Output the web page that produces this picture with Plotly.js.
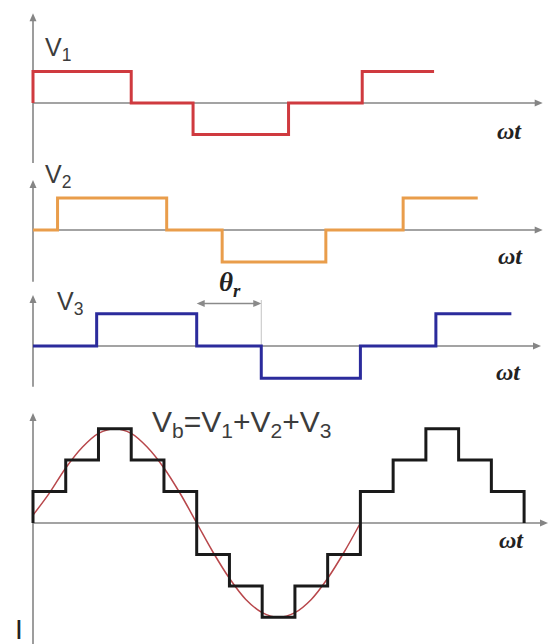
<!DOCTYPE html>
<html>
<head>
<meta charset="utf-8">
<script src="https://cdn.plot.ly/plotly-3.0.1.min.js"></script>
<style>html,body{margin:0;padding:0;background:#fff;}#chart{width:549px;height:644px;}</style>
</head>
<body>
<div id="chart"></div>
<script>
// ---- data (x in degrees of ωt, y in step levels) ----
const v1X = [0, 0, 108, 176, 281, 362, 441];
const v1Y = [0, 1, 0, -1, 0, 1, 1];
const v2X = [0, 27, 147, 208, 322, 407, 489];
const v2Y = [0, 1, 0, -1, 0, 1, 1];
const v3X = [0, 70, 180, 251, 360, 443, 526];
const v3Y = [0, 1, 0, -1, 0, 1, 1];
const vbX = [0, 0, 36, 72, 108, 144, 180, 216, 252, 288, 324, 360, 396, 432, 468, 504, 540];
const vbY = [0, 1, 2, 3, 2, 1, -1, -2, -3, -2, -1, 1, 2, 3, 2, 1, 0];
const sineX = [0, 18, 36, 54, 72, 90, 108, 126, 144, 162, 180, 198, 216, 234, 252, 270, 288, 306, 324, 342, 360];
const sineY = [0.25, 0.95, 1.75, 2.4, 2.85, 3.0, 2.85, 2.4, 1.75, 0.93, 0, -0.93, -1.76, -2.43, -2.85, -3.0, -2.85, -2.43, -1.76, -0.93, 0];
const thetaSpan = [180, 251];
const labels = {
  v1: 'V<sub>1</sub>', v2: 'V<sub>2</sub>', v3: 'V<sub>3</sub>',
  vb: 'V<sub>b</sub>=V<sub>1</sub>+V<sub>2</sub>+V<sub>3</sub>',
  wt: '<b><i>ωt</i></b>', theta: '<b><i>θ<sub>r</sub></i></b>'
};

// ---- layout helpers (pixel geometry) ----
const W = 549, H = 644;
const k = 180 / 163.7;          // degrees per pixel
const x0px = 33;                 // pixel of ωt = 0
const px2x = px => (px - x0px) * k;
const P = [
  {zero: 103, unit: 31.6, top: 10,  bot: 166, tip: 13.3, end: 163,  xtip: 542.7},
  {zero: 230, unit: 32.0, top: 168, bot: 290, tip: 180,  end: 281.7, xtip: 542.7},
  {zero: 346, unit: 32.2, top: 291, bot: 392, tip: 295,  end: 386.7, xtip: 541},
  {zero: 523, unit: 31.45, top: 405, bot: 644, tip: 413, end: 644,  xtip: 548}
];
const py2y = (i, py) => (P[i].zero - py) / P[i].unit;

const hidden = {showgrid: false, zeroline: false, showticklabels: false, showline: false, ticks: '', fixedrange: true};
const layout = {
  width: W, height: H, margin: {l: 0, r: 0, t: 0, b: 0},
  paper_bgcolor: '#fff', plot_bgcolor: 'rgba(0,0,0,0)', showlegend: false,
  xaxis: Object.assign({range: [px2x(0), px2x(W)], anchor: 'y4'}, hidden),
  annotations: [], shapes: []
};
P.forEach((p, i) => {
  const name = i === 0 ? 'yaxis' : 'yaxis' + (i + 1);
  layout[name] = Object.assign({
    domain: [1 - p.bot / H, 1 - p.top / H],
    range: [py2y(i, p.bot), py2y(i, p.top)], anchor: 'x'
  }, hidden);
});

const axisColor = '#858585';
const line = (yr, xa, xb, ya, yb, color, width) => layout.shapes.push({type: 'line', xref: 'x', yref: yr,
  x0: xa, x1: xb, y0: ya, y1: yb, line: {color: color, width: width}, layer: 'below'});
// arrowhead as a small pixel-sized triangle anchored at a data point
const head = (yr, xa, ya, dir, color) => {
  const L = 8, Wd = 3.5;
  const paths = {
    up:    `M0,0 L${-Wd},${-L} L${Wd},${-L} Z`,
    right: `M0,0 L${-L},${Wd} L${-L},${-Wd} Z`,
    left:  `M0,0 L${L},${Wd} L${L},${-Wd} Z`
  };
  layout.shapes.push({type: 'path', xref: 'x', yref: yr, xsizemode: 'pixel', ysizemode: 'pixel',
    xanchor: xa, yanchor: ya, path: paths[dir], fillcolor: color, line: {width: 0}, layer: 'below'});
};
P.forEach((p, i) => {
  const yr = i === 0 ? 'y' : 'y' + (i + 1);
  line(yr, 0, 0, py2y(i, p.end), py2y(i, p.tip) - 0.1, axisColor, 1.6);
  head(yr, 0, py2y(i, p.tip), 'up', axisColor);
  line(yr, 0, px2x(p.xtip) - 4, 0, 0, axisColor, 1.6);
  head(yr, px2x(p.xtip), 0, 'right', axisColor);
});

// theta_r double arrow and guide line
const thY = py2y(2, 303.5);
line('y3', thetaSpan[0] + 3, thetaSpan[1] - 3, thY, thY, '#8a8a8a', 1.5);
head('y3', thetaSpan[1], thY, 'right', '#8a8a8a');
head('y3', thetaSpan[0], thY, 'left', '#8a8a8a');
line('y3', thetaSpan[1], thetaSpan[1], 0, py2y(2, 300), '#b5b5b5', 0.8);

// text labels (pixel positions)
const txt = (s, xpx, ypx, size, fam, color, xa) => layout.annotations.push({
  xref: 'paper', yref: 'paper', x: xpx / W, y: 1 - ypx / H, text: s, showarrow: false,
  xanchor: xa || 'left', yanchor: 'middle', borderpad: 0,
  font: {family: fam, size: size, color: color}
});
const sans = 'Liberation Sans, Arial, sans-serif';
const serif = 'Liberation Serif, Times New Roman, serif';
txt(labels.v1, 44, 49, 25, sans, '#3c3c3c');
txt(labels.v2, 44, 176, 25, sans, '#3c3c3c');
txt(labels.v3, 56, 303, 25, sans, '#3c3c3c');
txt(labels.vb, 151, 423, 30, sans, '#3c3c3c');
txt(labels.wt, 509, 131, 24, serif, '#222', 'center');
txt(labels.wt, 510, 256, 24, serif, '#222', 'center');
txt(labels.wt, 508, 372, 24, serif, '#222', 'center');
txt(labels.wt, 511, 540, 24, serif, '#222', 'center');
txt(labels.theta, 230, 284, 27, serif, '#222', 'center');
txt('I', 19, 629, 28, sans, '#222', 'center');

const traces = [
  {x: sineX, y: sineY, yaxis: 'y4', mode: 'lines', line: {shape: 'spline', color: '#b8474b', width: 1.5}},
  {x: v1X, y: v1Y, yaxis: 'y', mode: 'lines', line: {shape: 'hv', color: '#cf3a3f', width: 3}},
  {x: v2X, y: v2Y, yaxis: 'y2', mode: 'lines', line: {shape: 'hv', color: '#e99d4b', width: 3}},
  {x: v3X, y: v3Y, yaxis: 'y3', mode: 'lines', line: {shape: 'hv', color: '#2b2b9c', width: 3}},
  {x: vbX, y: vbY, yaxis: 'y4', mode: 'lines', line: {shape: 'hv', color: '#1a1a1a', width: 3}}
].map(t => Object.assign({xaxis: 'x', hoverinfo: 'skip', cliponaxis: false}, t));

Plotly.newPlot('chart', traces, layout, {staticPlot: true, displayModeBar: false});
</script>
</body>
</html>
